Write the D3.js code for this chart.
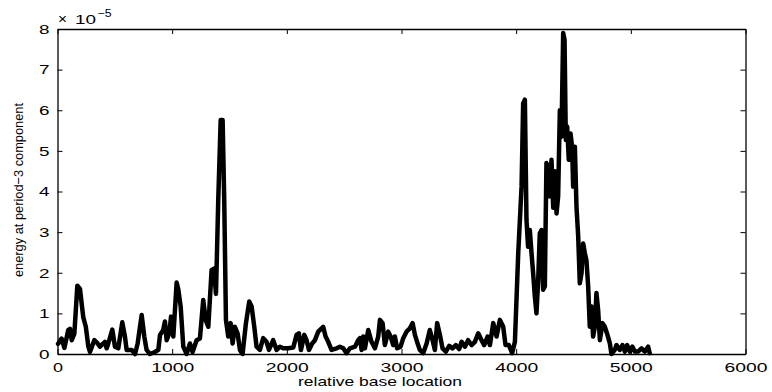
<!DOCTYPE html>
<html>
<head>
<meta charset="utf-8">
<script src="https://cdn.jsdelivr.net/npm/d3@7"></script>
<style>
  html, body { margin: 0; padding: 0; background: #fff; }
  svg text { font-family: "Liberation Sans", Arial, Helvetica, sans-serif; fill: #000; }
</style>
</head>
<body>
<svg id="chart" width="772" height="392"></svg>
<script>
// base location (x) and energy at period-3 component (×1e-5)
const positions = [5,36,60,94,109,124,147,173,196,225,247,269,283,321,350,370,414,429,443,478,501,530,565,588,603,647,676,699,734,757,777,806,850,879,894,
922,937,952,975,990,1010,1039,1053,1074,1097,1126,1155,1178,1213,1242,1271,1292,1315,1344,1364,1382,1402,1423,1440,1454,1469,1489,1510,1527,1547,1571,1591,1614,1643,1672,1693,1716,1736,
1765,1794,1823,1844,1881,1911,1940,1968,2012,2056,2085,2105,2123,2152,2172,2193,2221,2245,2274,2317,2338,2361,2390,2434,2463,2492,2521,2550,2594,2622,
2637,2652,2666,2681,2710,2739,2768,2797,2812,2835,2855,2884,2905,2928,2942,2962,2992,3015,3044,3073,3097,3117,3145,3160,3189,3219,3247,3271,3291,3311,3335,3358,3387,3416,3445,3474,3503,3524,3553,
3581,3611,3640,3669,3698,3721,3751,3771,3800,3829,3858,3887,3907,3936,3965,3989,4018,4047,4061,4076,4090,4104,4119,4134,4148,4163,4177,4192,4206,4221,4235,4250,4264,4279,4294,4308,4323,
4337,4352,4366,4381,4395,4410,4422,4433,4445,4459,4474,4488,4497,4512,4526,4541,4555,4570,4584,4599,4613,4628,4642,4657,4671,4686,4700,4715,4730,4753,4773,4793,4817,4831,4860,4875,4904,4927,4948,4968,4991,5014,5034,5063,5093,5122,5151,5165];
const energy = [0.25,0.38,0.15,0.59,0.62,0.34,0.5,1.68,1.6,0.9,0.67,0.18,0.05,0.34,0.26,0.18,0.3,0.14,0.26,0.6,0.18,0.14,0.78,0.43,0.1,0.1,0.0,0.26,0.96,0.43,0.1,0.0,0.05,0.1,0.47,
0.59,0.8,0.34,0.52,0.92,0.43,1.76,1.6,1.17,0.18,0.0,0.26,0.05,0.34,0.38,1.33,0.84,0.67,2.07,2.1,1.48,3.8,5.76,5.76,3.8,0.84,0.43,0.76,0.26,0.67,0.5,0.1,0.0,0.75,1.29,1.17,0.67,0.18,
0.1,0.39,0.3,0.1,0.34,0.1,0.18,0.14,0.14,0.16,0.47,0.51,0.1,0.47,0.34,0.1,0.26,0.34,0.55,0.67,0.43,0.3,0.1,0.14,0.18,0.14,0.02,0.14,0.18,0.34,
0.39,0.1,0.43,0.14,0.59,0.3,0.14,0.43,0.84,0.76,0.22,0.55,0.43,0.22,0.43,0.14,0.18,0.39,0.55,0.63,0.76,0.47,0.22,0.1,0.02,0.26,0.59,0.34,0.1,0.76,0.47,0.14,0.06,0.2,0.14,0.22,0.12,0.3,0.18,
0.34,0.22,0.3,0.51,0.34,0.22,0.43,0.22,0.76,0.43,0.84,0.67,0.22,0.22,0.02,0.3,2.48,4.12,6.17,6.26,3.3,2.64,3.05,2.48,1.99,1.41,1.0,1.82,2.97,3.05,1.58,1.66,4.7,4.6,3.88,4.78,3.6,
4.5,3.46,3.88,6.0,5.35,7.9,7.73,5.27,5.6,4.78,5.43,5.1,4.12,5.1,3.63,2.89,1.74,1.99,2.72,2.48,2.3,1.66,0.67,1.17,0.43,0.67,1.5,1.08,0.34,0.76,0.67,0.5,0.26,0.0,0.1,0.22,0.1,0.22,0.06,0.22,0.06,0.18,0.06,0.06,0.14,0.06,0.18,0.02];

const xTicks = [0,1000,2000,3000,4000,5000,6000];
const yTicks = [0,1,2,3,4,5,6,7,8];
const xLabel = "relative base location";
const yLabel = "energy at period\u22123 component";

const margin = {left: 57.5, right: 26.5, top: 29, bottom: 38};
const W = 772, H = 392;
const svg = d3.select("#chart");

const x = d3.scaleLinear().domain([0, 6000]).range([margin.left, W - margin.right]);
const y = d3.scaleLinear().domain([0, 8]).range([H - margin.bottom, margin.top]);

const data = positions.map((p, i) => ({p, v: energy[i]}));

// line
const line = d3.line().x(d => x(d.p)).y(d => y(d.v));
svg.append("path")
  .datum(data)
  .attr("d", line)
  .attr("fill", "none")
  .attr("stroke", "#000")
  .attr("stroke-width", 4.5)
  .attr("stroke-linejoin", "round")
  .attr("stroke-linecap", "round");

// axes with inward ticks
const fs = 13.5;
const gB = svg.append("g").attr("transform", `translate(0,${y(0)})`)
  .call(d3.axisBottom(x).tickValues(xTicks).tickFormat(d3.format("d")).tickSizeInner(-5).tickSizeOuter(0).tickPadding(8));
const gT = svg.append("g").attr("transform", `translate(0,${y(8)})`)
  .call(d3.axisTop(x).tickValues(xTicks).tickFormat("").tickSizeInner(-5).tickSizeOuter(0));
const gL = svg.append("g").attr("transform", `translate(${x(0)},0)`)
  .call(d3.axisLeft(y).tickValues(yTicks).tickFormat(d3.format("d")).tickSizeInner(-5).tickSizeOuter(0).tickPadding(8));
const gR = svg.append("g").attr("transform", `translate(${x(6000)},0)`)
  .call(d3.axisRight(y).tickValues(yTicks).tickFormat("").tickSizeInner(-5).tickSizeOuter(0));

[gB, gT, gL, gR].forEach(g => {
  g.select(".domain").attr("stroke", "#000").attr("stroke-width", 1.3);
  g.selectAll(".tick line").attr("stroke", "#000").attr("stroke-width", 1);
  g.selectAll("text").attr("font-size", fs).attr("font-family", "Liberation Sans, Arial, sans-serif").attr("fill", "#000");
});
// horizontally stretched glyphs as in the reference
gB.selectAll(".tick text")
  .attr("textLength", d => String(d).length * 11 - 1)
  .attr("lengthAdjust", "spacingAndGlyphs");
gL.selectAll(".tick text")
  .attr("textLength", 10.5)
  .attr("lengthAdjust", "spacingAndGlyphs");

// exponent label
const ex = svg.append("g");
ex.append("text").attr("x", 58).attr("y", 23.5).attr("font-size", 14)
  .attr("textLength", 9).attr("lengthAdjust", "spacingAndGlyphs").text("\u00d7");
ex.append("text").attr("x", 75).attr("y", 23.5).attr("font-size", 13.5)
  .attr("textLength", 21).attr("lengthAdjust", "spacingAndGlyphs").text("10");
ex.append("text").attr("x", 97.5).attr("y", 16.5).attr("font-size", 10.5)
  .attr("textLength", 14).attr("lengthAdjust", "spacingAndGlyphs").text("\u22125");

// axis titles
svg.append("text")
  .attr("x", 380).attr("y", 386)
  .attr("text-anchor", "middle").attr("font-size", 13.5)
  .attr("textLength", 164).attr("lengthAdjust", "spacingAndGlyphs")
  .text(xLabel);

svg.append("text")
  .attr("transform", `translate(23,190) rotate(-90)`)
  .attr("text-anchor", "middle").attr("font-size", 13.5)
  .attr("textLength", 174).attr("lengthAdjust", "spacingAndGlyphs")
  .text(yLabel);
</script>
</body>
</html>
